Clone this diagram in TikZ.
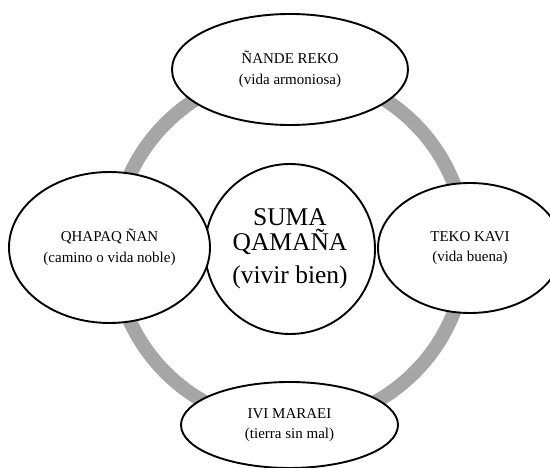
\documentclass[tikz,border=0pt]{standalone}
\usepackage{fontspec}
\setmainfont{Liberation Serif}
\usetikzlibrary{shapes.geometric}
\definecolor{ringgray}{RGB}{166,166,166}
\tikzset{
  petal/.style={ellipse, draw=black, line width=1.9pt, fill=white, inner sep=0pt,
    align=center, font=\fontsize{15}{20.5}\selectfont},
  hub/.style={circle, draw=black, line width=1.9pt, fill=white, inner sep=0pt,
    minimum size=170pt, align=center, font=\fontsize{25.5}{25}\selectfont},
  ring/.style={draw=ringgray, line width=14pt}
}
\begin{document}
\begin{tikzpicture}[x=1pt,y=-1pt]
\useasboundingbox (0,0) rectangle (550,468);
\clip (0,0) rectangle (550,468);
\coordinate (c) at (290,248);
\draw[ring] (c) circle (176pt);
\node[hub] (hub) at (290,249) {SUMA\\QAMAÑA\\[8pt](vivir bien)};
\node[petal, minimum width=236pt, minimum height=111pt] (top) at (290,69.5) {ÑANDE REKO\\(vida armoniosa)};
\node[petal, minimum width=201pt, minimum height=151pt] (left) at (109.5,247.5) {QHAPAQ ÑAN\\(camino o vida noble)};
\node[petal, minimum width=184pt, minimum height=130pt] (right) at (470,248) {TEKO KAVI\\(vida buena)};
\node[petal, minimum width=217pt, minimum height=86pt] (bottom) at (289.5,425) {IVI MARAEI\\(tierra sin mal)};
\end{tikzpicture}
\end{document}
